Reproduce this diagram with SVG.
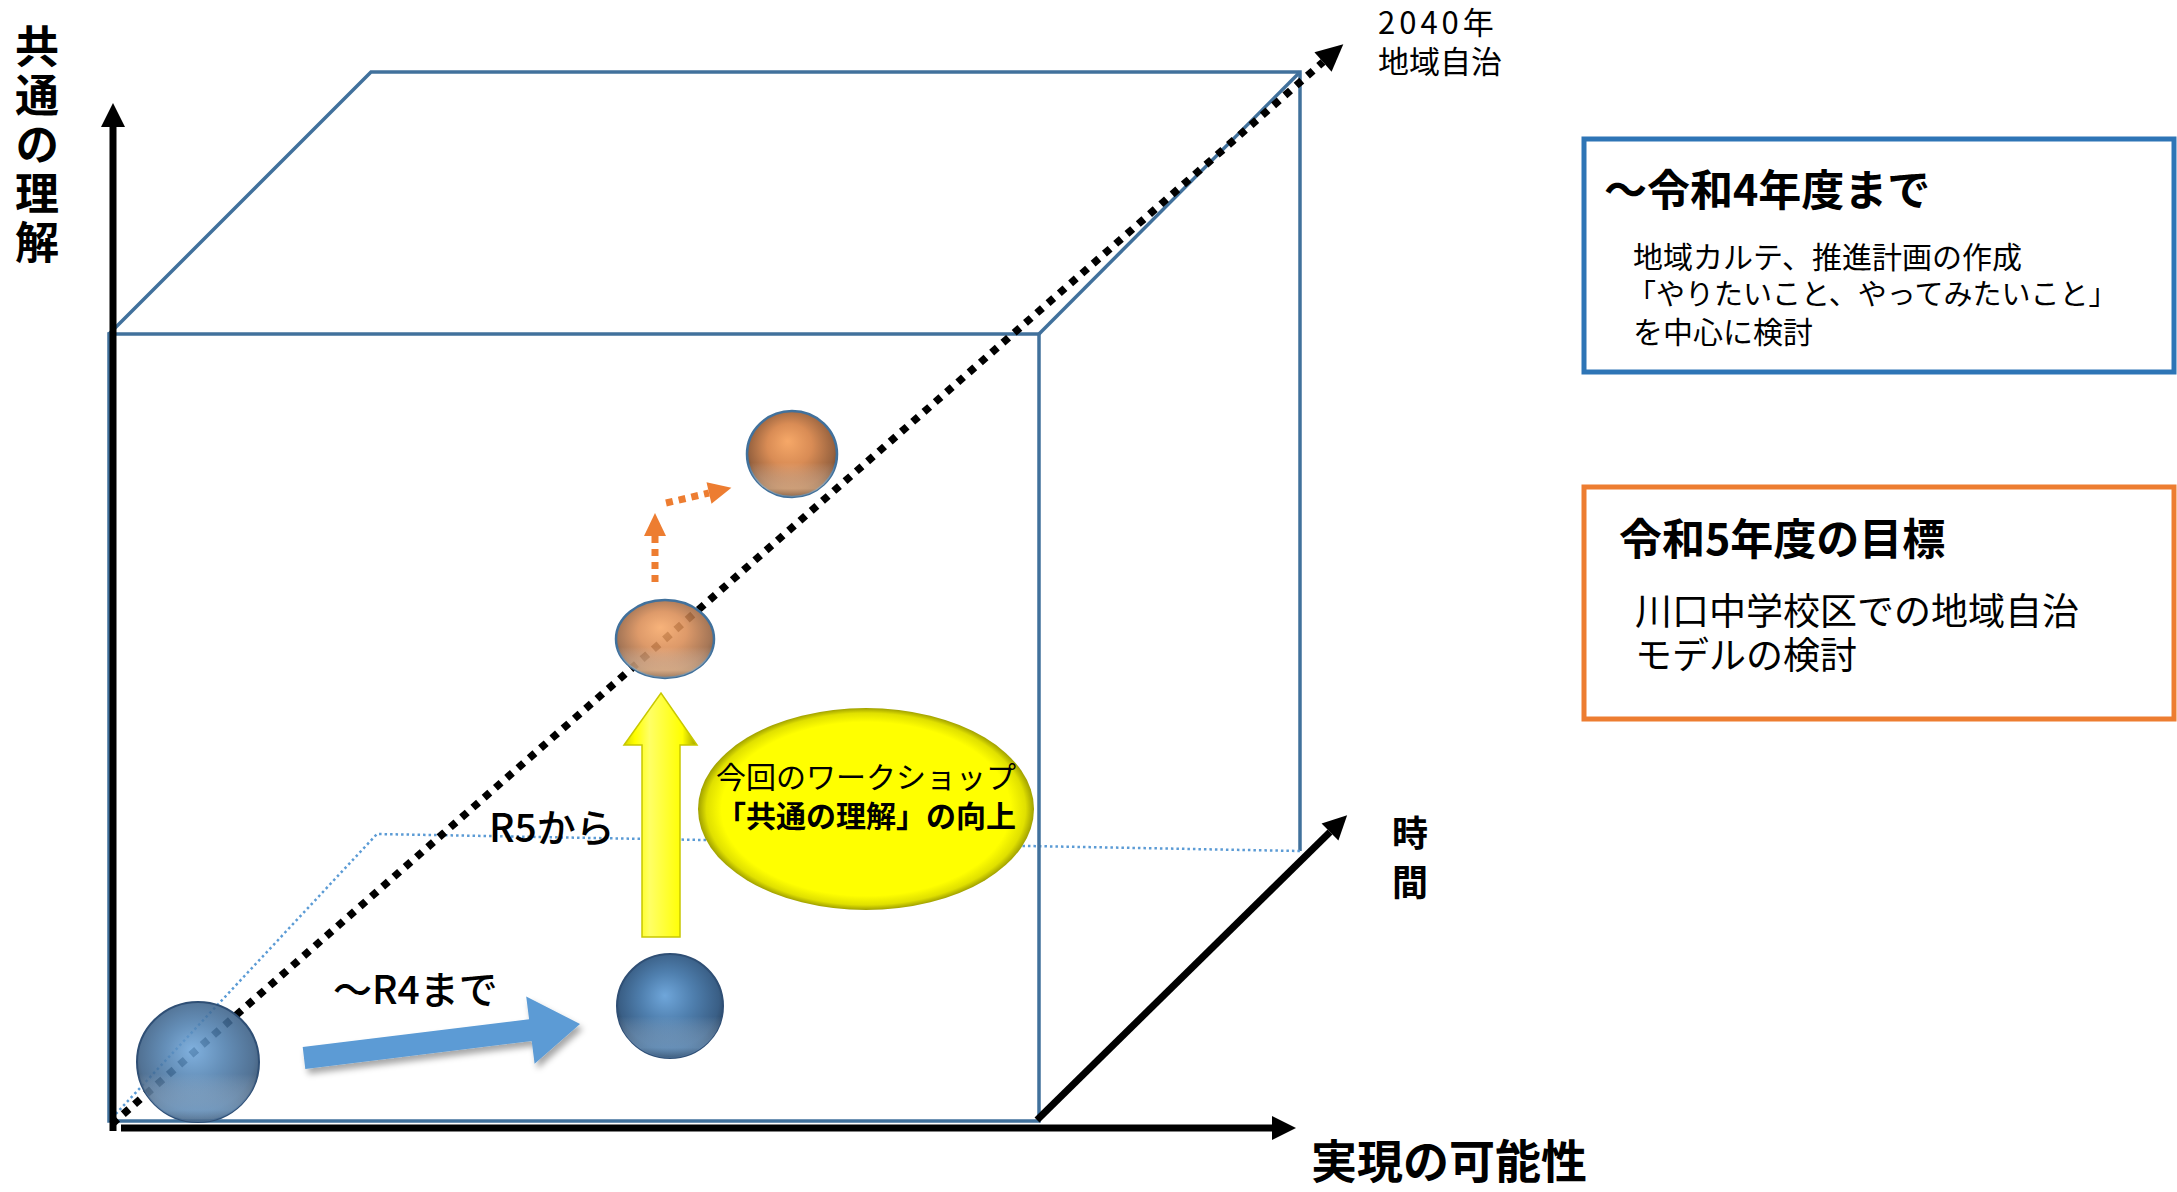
<svg xmlns="http://www.w3.org/2000/svg" width="2177" height="1192" viewBox="0 0 2177 1192">
<style>
.jp{font-family:"Noto Sans CJK JP","Noto Sans",sans-serif;fill:#000}
.b{font-weight:bold}
.m{font-weight:500}
.vt{writing-mode:vertical-rl;glyph-orientation-vertical:0}
.cube{fill:none;stroke:#41719C;stroke-width:3.5;stroke-linejoin:miter}
.thin{fill:none;stroke:#5B9BD5;stroke-width:2.5;stroke-dasharray:2.5 3}
.axis{fill:none;stroke:#000;stroke-width:7}
</style>
<defs>
<marker id="ah" markerUnits="userSpaceOnUse" markerWidth="26" markerHeight="26" refX="0" refY="12" orient="auto" overflow="visible">
<path d="M0,0 L24,12 L0,24 z" fill="#000"/>
</marker>
<marker id="ahd" markerUnits="userSpaceOnUse" markerWidth="30" markerHeight="30" refX="0" refY="13" orient="auto" overflow="visible">
<path d="M0,0 L27,13 L0,26 z" fill="#000"/>
</marker>
<marker id="aho" markerUnits="userSpaceOnUse" markerWidth="26" markerHeight="26" refX="0" refY="11" orient="auto" overflow="visible">
<path d="M0,0 L23,11 L0,22 z" fill="#ED7D31"/>
</marker>
<radialGradient id="gb" cx="0.5" cy="0.45" r="0.55" fx="0.45" fy="0.4">
<stop offset="0" stop-color="#6fa6da"/>
<stop offset="0.45" stop-color="#4f7fae"/>
<stop offset="0.85" stop-color="#3a5f86"/>
<stop offset="1" stop-color="#2a4563"/>
</radialGradient>
<linearGradient id="gbl" x1="0" y1="0" x2="0" y2="1">
<stop offset="0" stop-color="#ffffff" stop-opacity="0"/>
<stop offset="0.6" stop-color="#ffffff" stop-opacity="0"/>
<stop offset="0.9" stop-color="#9cc8f0" stop-opacity="0.45"/>
<stop offset="1" stop-color="#9cc8f0" stop-opacity="0.2"/>
</linearGradient>
<radialGradient id="go" cx="0.5" cy="0.45" r="0.55" fx="0.45" fy="0.35">
<stop offset="0" stop-color="#f6a868"/>
<stop offset="0.45" stop-color="#d98c55"/>
<stop offset="0.85" stop-color="#9a6440"/>
<stop offset="1" stop-color="#704a30"/>
</radialGradient>
<linearGradient id="gol" x1="0" y1="0" x2="0" y2="1">
<stop offset="0" stop-color="#ffffff" stop-opacity="0"/>
<stop offset="0.6" stop-color="#ffffff" stop-opacity="0"/>
<stop offset="0.9" stop-color="#ffd8b0" stop-opacity="0.5"/>
<stop offset="1" stop-color="#ffd8b0" stop-opacity="0.2"/>
</linearGradient>
<radialGradient id="gy" cx="0.5" cy="0.5" r="0.5">
<stop offset="0" stop-color="#ffff00"/>
<stop offset="0.86" stop-color="#ffff00"/>
<stop offset="0.95" stop-color="#e0e000"/>
<stop offset="1" stop-color="#a0a000"/>
</radialGradient>
<linearGradient id="gya" x1="0" y1="0" x2="1" y2="0">
<stop offset="0" stop-color="#d8d800"/>
<stop offset="0.15" stop-color="#ffff00"/>
<stop offset="0.35" stop-color="#ffff66"/>
<stop offset="0.8" stop-color="#ffff00"/>
<stop offset="1" stop-color="#a0a000"/>
</linearGradient>
<filter id="sh" x="-20%" y="-40%" width="140%" height="180%">
<feDropShadow dx="3" dy="5" stdDeviation="3" flood-color="#000" flood-opacity="0.35"/>
</filter>
</defs>

<g id="connectors">
<polyline class="cube" points="109,334 371,72 1300,72 1300,851"/>
<line class="cube" x1="1039" y1="334" x2="1300" y2="72"/>
<polyline class="thin" points="112,1118 377,834 1300,851"/>
<rect class="cube" x="109" y="334" width="930" height="787"/>
<line class="axis" x1="113" y1="1131" x2="113" y2="127" marker-end="url(#ah)"/>
<line class="axis" x1="121" y1="1128" x2="1272" y2="1128" marker-end="url(#ah)"/>
<line class="axis" x1="1037" y1="1120" x2="1330" y2="832" marker-end="url(#ah)"/>
<line x1="112" y1="1124" x2="1323" y2="62" stroke="#000" stroke-width="7.5" stroke-dasharray="7.5 7.5" marker-end="url(#ahd)"/>
<line x1="655" y1="582" x2="655" y2="536" stroke="#ED7D31" stroke-width="7" stroke-dasharray="7 6" marker-end="url(#aho)"/>
<line x1="666" y1="503" x2="709" y2="493" stroke="#ED7D31" stroke-width="7" stroke-dasharray="7 6" marker-end="url(#aho)"/>
<polygon id="arrow-r4" points="305.3,1068.9 302.7,1047.1 529.1,1019.2 526.2,996.4 580,1024 534.6,1063.8 531.7,1041" fill="#5B9BD5" filter="url(#sh)"/>
<polygon id="arrow-up" points="642,937 642,745 624,745 661,693 697,745 680,745 680,937" fill="url(#gya)" stroke="#c8c800" stroke-width="1.5"/>
</g>

<g id="axis-label-y">
<text class="jp b vt" font-size="44" letter-spacing="5" x="37" y="24">共通の理解</text>
</g>
<g id="axis-label-x">
<text class="jp b" font-size="46" x="1311" y="1178">実現の可能性</text>
</g>
<g id="axis-label-t">
<text class="jp b vt" font-size="36" letter-spacing="13" x="1410" y="815">時間</text>
</g>
<g id="goal-label">
<text class="jp" font-size="31" x="1378" y="34"><tspan letter-spacing="4">2040年</tspan><tspan x="1378" dy="39">地域自治</tspan></text>
</g>

<g id="sphere-start">
<ellipse cx="198" cy="1062" rx="61" ry="60" fill="url(#gb)" fill-opacity="0.88" stroke="#2f4f75" stroke-width="2"/>
<ellipse cx="198" cy="1062" rx="61" ry="60" fill="url(#gbl)"/>
</g>
<g id="sphere-r4">
<ellipse cx="670" cy="1006" rx="53" ry="52" fill="url(#gb)" stroke="#2f4f75" stroke-width="2"/>
<ellipse cx="670" cy="1006" rx="53" ry="52" fill="url(#gbl)"/>
</g>
<g id="sphere-r5">
<ellipse cx="665" cy="639" rx="49" ry="39" fill="url(#go)" fill-opacity="0.88" stroke="#41719C" stroke-width="2.5"/>
<ellipse cx="665" cy="639" rx="49" ry="39" fill="url(#gol)"/>
</g>
<g id="sphere-next">
<ellipse cx="792" cy="454" rx="45" ry="43" fill="url(#go)" stroke="#41719C" stroke-width="2.5"/>
<ellipse cx="792" cy="454" rx="45" ry="43" fill="url(#gol)"/>
</g>

<g id="label-r4">
<text class="jp m" font-size="39" x="333" y="1004">～R4まで</text>
</g>
<g id="label-r5">
<text class="jp m" font-size="39" x="489" y="842">R5から</text>
</g>

<g id="workshop">
<ellipse cx="866" cy="809" rx="168" ry="101" fill="url(#gy)"/>
<text class="jp" font-size="30" text-anchor="middle" x="866" y="788">今回のワークショップ<tspan class="b" x="866" dy="39">「共通の理解」の向上</tspan></text>
</g>

<g id="box-r4">
<rect x="1584" y="139" width="590" height="233" fill="#fff" stroke="#2E75B6" stroke-width="5"/>
<text class="jp b" font-size="43" x="1604" y="206">～令和4年度まで</text>
<text class="jp" font-size="30" x="1633" y="268">地域カルテ、推進計画の作成<tspan x="1627" dy="37" font-size="29">「やりたいこと、やってみたいこと」</tspan><tspan x="1633" dy="38">を中心に検討</tspan></text>
</g>

<g id="box-r5">
<rect x="1584" y="487" width="590" height="232" fill="#fff" stroke="#ED7D31" stroke-width="5"/>
<text class="jp b" font-size="43" x="1619" y="555">令和5年度の目標</text>
<text class="jp" font-size="37" x="1635" y="625">川口中学校区での地域自治<tspan x="1635" dy="44">モデルの検討</tspan></text>
</g>
</svg>
